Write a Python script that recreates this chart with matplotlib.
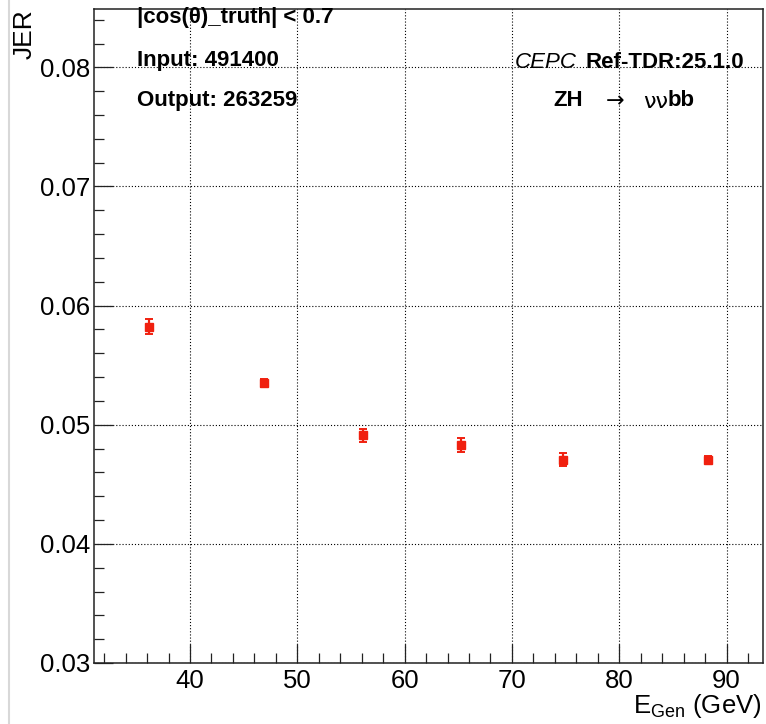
#!/usr/bin/env python3
# JER vs generated jet energy, CEPC Ref-TDR style

import numpy as np
import matplotlib
matplotlib.use('Agg')
import matplotlib.pyplot as plt
from matplotlib.ticker import MultipleLocator, FormatStrFormatter
from matplotlib.lines import Line2D

# data
e_gen = [36.2, 46.9, 56.1, 65.25, 74.8, 88.26]
jer = [0.05824, 0.05350, 0.04910, 0.04832, 0.04707, 0.04707]
jer_err = [0.00066, 0.00030, 0.00052, 0.00058, 0.00055, 0.00030]

cut_text = '|cos(θ)_truth| < 0.7'
input_text = 'Input: 491400'
output_text = 'Output: 263259'

W, H = 766, 724
plt.rcParams['font.family'] = ['Liberation Sans', 'DejaVu Sans']


def fx(px):
    return px / W


def fy(py):
    return 1 - py / H


fig = plt.figure(figsize=(W / 100, H / 100), dpi=100)
ax = fig.add_axes([fx(94), fy(663), fx(763) - fx(94), fy(9) - fy(663)])

ax.errorbar(e_gen, jer, yerr=jer_err, fmt='s', color='#f0200f', ms=6,
            elinewidth=1.6, capsize=3, capthick=1.4, zorder=3)

ax.set_xlim(31.05, 93.4)
ax.set_ylim(0.03, 0.0849)

#ticks
ax.xaxis.set_major_locator(MultipleLocator(10))
ax.xaxis.set_minor_locator(MultipleLocator(2))
ax.yaxis.set_major_locator(MultipleLocator(0.01))
ax.yaxis.set_minor_locator(MultipleLocator(0.002))
ax.yaxis.set_major_formatter(FormatStrFormatter('%.2f'))
ax.tick_params(which='both', direction='in', top=False, right=False,
               color='#222222', labelsize=18.5)
ax.tick_params(which='major', length=13.7, width=0.9)
ax.tick_params(which='minor', length=7.2, width=0.9)
ax.tick_params(axis='x', which='major', pad=4)
ax.tick_params(axis='y', which='major', pad=2.5)

for s in ax.spines.values():
    s.set_linewidth(1.1)
    s.set_color('#222222')

#grid
ax.grid(True, which='major', color='black', linewidth=0.8,
        linestyle=(0, (1, 1.8)))
ax.set_axisbelow(True)

#axis titles
fig.text(fx(24.5), fy(9), 'JER', rotation=90, ha='center', va='top',
         fontsize=19)
fig.text(fx(762), fy(706), r'E$_{\mathregular{Gen}}$ (GeV)', ha='right',
         va='center', fontsize=18.5)

#labels
fig.text(fx(137), fy(17), cut_text, ha='left', va='center', fontsize=16,
         fontweight='bold')
fig.text(fx(137), fy(60.5), input_text, ha='left', va='center', fontsize=16,
         fontweight='bold')
fig.text(fx(137), fy(100.5), output_text, ha='left', va='center', fontsize=16,
         fontweight='bold')

fig.text(fx(515), fy(62), 'CEPC', ha='left', va='center', fontsize=16,
         style='italic')
fig.text(fx(744), fy(62), 'Ref-TDR:25.1.0', ha='right', va='center',
         fontsize=16, fontweight='bold')

fig.text(fx(553), fy(101), 'ZH', ha='left', va='center', fontsize=16,
         fontweight='bold')
fig.text(fx(615), fy(101), '→', ha='center', va='center', fontsize=16,
         family='DejaVu Sans')
fig.text(fx(668), fy(102), 'νν', ha='right', va='center', fontsize=16,
         family='DejaVu Sans')
fig.text(fx(668), fy(101), 'bb', ha='left', va='center', fontsize=16,
         fontweight='bold')

# light border line at left of the screenshot
fig.add_artist(Line2D([fx(9), fx(9)], [0, 1], color='#d8d8d8', lw=1.5))

fig.savefig('out.png', dpi=100)
